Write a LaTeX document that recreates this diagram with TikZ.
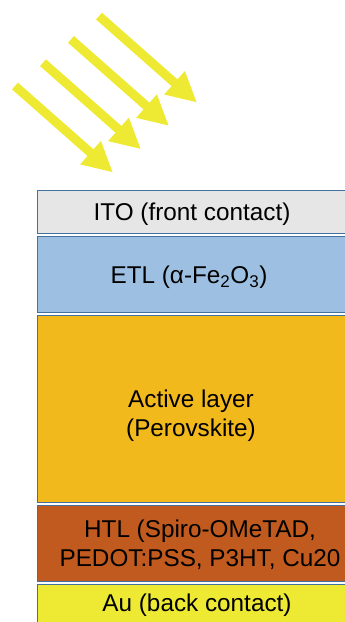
\documentclass[tikz,border=0pt]{standalone}
\usepackage{fontspec}
\setmainfont{Liberation Sans}
\usetikzlibrary{arrows.meta,positioning,calc}
\definecolor{itoclr}{RGB}{231,230,230}
\definecolor{etlclr}{RGB}{157,192,226}
\definecolor{actclr}{RGB}{242,185,28}
\definecolor{htlclr}{RGB}{192,90,30}
\definecolor{auclr}{RGB}{238,234,52}
\definecolor{sunclr}{RGB}{238,234,52}
\definecolor{lyrbdr}{RGB}{65,113,156}
\tikzset{
  lyr/.style={rectangle,draw=lyrbdr,line width=0.9pt,
    minimum width=310pt,inner sep=0pt},
  txt/.style={font=\fontsize{24.3}{29.5}\selectfont,align=center,
    text=black,inner sep=0pt},
  sun/.style={-{Triangle[length=30pt,width=29pt]},line width=9pt,
    color=sunclr},
}

\begin{document}
\begin{tikzpicture}[x=1pt,y=-1pt,node distance=2pt]
  \useasboundingbox (0,0) rectangle (345,622);
  \clip (0,0) rectangle (345,622);

  % incoming light
  \foreach \i in {0,...,3}{
    \draw[sun] ({15+28*\i},{86-23.3*\i}) -- ++(98,86.5);
  }

  % layer stack
  \node[lyr,fill=itoclr,minimum height=43pt] (ito) at (192,212) {};
  \node[lyr,fill=etlclr,minimum height=76pt,below=of ito] (etl) {};
  \node[lyr,fill=actclr,minimum height=187pt,below=of etl] (act) {};
  \node[lyr,fill=htlclr,minimum height=76pt,below=of act] (htl) {};
  \node[lyr,fill=auclr,minimum height=45pt,below=of htl] (au) {};

  % layer names
  \node[txt] (itotxt) at ($(ito)+(0,2)$) {ITO (front contact)};
  \node[txt] (etltxt) at ($(etl)+(-3,3)$)
    {ETL (α-Fe\textsubscript{2}O\textsubscript{3})};
  \node[txt] (acttxt) at ($(act)+(-1,7)$) {Active layer\\(Perovskite)};
  \node[txt] (htltxt) at ($(htl)+(8,1.5)$)
    {HTL (Spiro-OMeTAD,\\PEDOT:PSS, P3HT, Cu20};
  \node[txt] (autxt) at ($(au)+(5,-1)$) {Au (back contact)};

\end{tikzpicture}
\end{document}
